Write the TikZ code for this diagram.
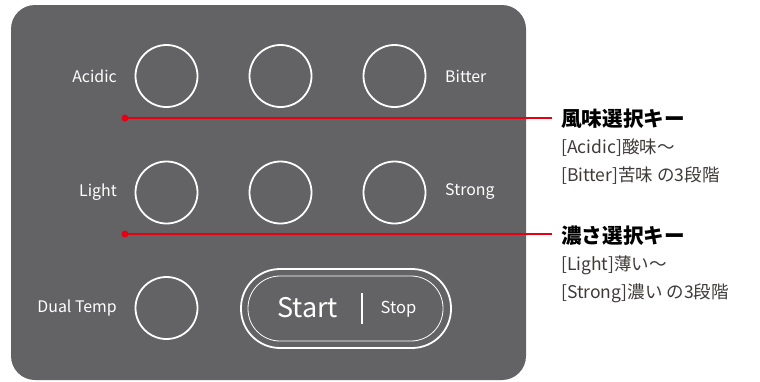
\documentclass[tikz,border=0pt]{standalone}
\usepackage{fontspec}
\setmainfont{Noto Sans CJK JP}
\definecolor{panel}{HTML}{636365}
\definecolor{redline}{HTML}{E60012}
\definecolor{subtxt}{HTML}{3E3A39}
\begin{document}
\begin{tikzpicture}[x=1pt,y=-1pt,
  key/.style={circle,draw=white,line width=1.8pt,minimum size=62pt,inner sep=0pt},
  lbl/.style={text=white,font=\fontsize{15.9}{16}\selectfont,inner sep=0pt},
  lead/.style={draw=redline,line width=1.4pt},
  ttl/.style={anchor=west,inner sep=0pt,font=\bfseries\fontsize{20.6}{21}\selectfont,text=black},
  sub/.style={anchor=west,inner sep=0pt,font=\fontsize{17.5}{18}\selectfont,text=subtxt}]
\useasboundingbox (0,0) rectangle (760,381);
\fill[panel,rounded corners=24pt] (11,5) rectangle (526,380);
% keys
\node[key] (k11) at (166.5,76) {};
\node[key] (k12) at (280.5,76) {};
\node[key] (k13) at (394.5,76) {};
\node[key] (k21) at (166.5,192.5) {};
\node[key] (k22) at (280.5,192.5) {};
\node[key] (k23) at (394.5,192.5) {};
\node[key] (k31) at (166.5,308) {};
% labels
\node[lbl,anchor=east] (acidic) at (117,76) {Acidic};
\node[lbl,anchor=west] (bitter) at (445,76) {Bitter};
\node[lbl,anchor=east] (light) at (117,192) {Light};
\node[lbl,anchor=west] (strong) at (445,192) {Strong};
\node[lbl,anchor=east] (dual) at (117,308) {Dual Temp};
% start/stop pill
\node[draw=white,line width=1.8pt,rounded corners=39pt,minimum width=210pt,minimum height=79pt,inner sep=0pt] (pill) at (346,308.5) {};
\node[draw=white,line width=0.8pt,rounded corners=32pt,minimum width=195pt,minimum height=65pt,inner sep=0pt] (pillin) at (345.5,308.5) {};
\node[text=white,font=\fontsize{27}{27}\selectfont,inner sep=0pt] (start) at (307.5,308) {Start};
\node[text=white,font=\fontsize{16.5}{16}\selectfont,inner sep=0pt] (stop) at (398.5,309) {Stop};
\coordinate (vt) at (362,293);
\coordinate (vb) at (362,324);
\draw[white,line width=1.2pt] (vt) -- (vb);
% leaders
\coordinate (d1) at (125,118);
\coordinate (d2) at (125,234);
\node[ttl] (t1) at (561,119) {風味選択キー};
\node[sub] (s1a) at (561,148) {[Acidic]酸味～};
\node[sub] (s1b) at (561,176) {[Bitter]苦味 の3段階};
\node[ttl] (t2) at (561,236) {濃さ選択キー};
\node[sub] (s2a) at (561,265) {[Light]薄い～};
\node[sub] (s2b) at (561,293) {[Strong]濃い の3段階};
\draw[lead,shorten >=9pt] (d1) -- (d1 -| t1.west);
\draw[lead,shorten >=9pt] (d2) -- (d2 -| t2.west);
\fill[redline] (d1) circle (3.5pt);
\fill[redline] (d2) circle (3.5pt);
\end{tikzpicture}
\end{document}
